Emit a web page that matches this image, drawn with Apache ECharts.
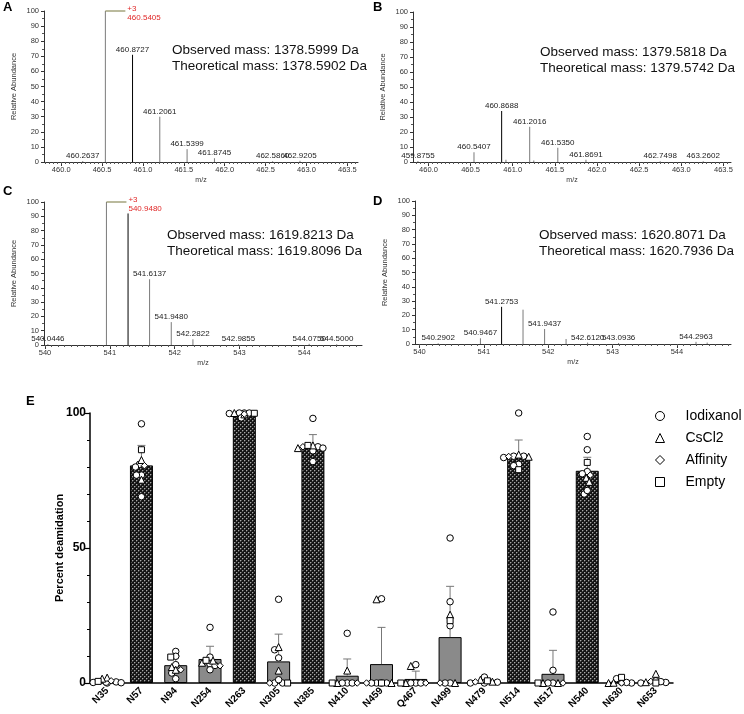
<!DOCTYPE html>
<html>
<head>
<meta charset="utf-8">
<script src="https://cdn.jsdelivr.net/npm/echarts@6/dist/echarts.min.js"></script>
<style>
html,body{margin:0;padding:0;background:#fff;}
#main{width:744px;height:714px;}
</style>
</head>
<body>
<div id="main"></div>
<script>
// ---- spectra A-D : [m/z, relative abundance, tag]  tag 0 = no label, 1 = label, 2 = charge-state base peak
var peaksA = [[460.2637,0.6,1],[460.5405,100,2],[460.8727,71,1],[461.2061,30,1],[461.5399,8.5,1],[461.8745,2.5,1],[462.5860,0.5,1],[462.9205,0.8,1]];
var peaksB = [[459.8755,0.6,1],[460.5407,6.5,1],[460.8688,34,1],[460.9200,1.5,0],[461.2016,23.5,1],[461.2500,1,0],[461.5350,9.5,1],[461.8691,1.5,1],[462.7498,0.5,1],[463.2602,0.5,1]];
var peaksC = [[540.0446,0.6,1],[540.9480,100,2],[541.2814,92,0],[541.6137,46,1],[541.9480,16,1],[542.2822,4,1],[542.9855,0.5,1],[544.0750,0.8,1],[544.5000,0.5,1]];
var peaksD = [[540.2902,0.5,1],[540.9467,4,1],[541.2753,26,1],[541.6085,24,0],[541.9437,10.5,1],[542.2774,3.5,0],[542.6120,1,1],[543.0936,0.7,1],[544.2963,1.5,1],[544.4700,1,0]];

var ticksAB = [460.0,460.5,461.0,461.5,462.0,462.5,463.0,463.5];
var ticksCD = [540,541,542,543,544];

var massText = {
  A: ['Observed mass: 1378.5999 Da','Theoretical mass: 1378.5902 Da'],
  B: ['Observed mass: 1379.5818 Da','Theoretical mass: 1379.5742 Da'],
  C: ['Observed mass: 1619.8213 Da','Theoretical mass: 1619.8096 Da'],
  D: ['Observed mass: 1620.8071 Da','Theoretical mass: 1620.7936 Da']
};

// ---- panel E : percent deamidation per site
var sites = ['N35','N57','N94','N254','N263','N305','N385','N410','N459','Q467','N499','N479','N514','N517','N540','N630','N653'];
var meanPct = [0.6,80.6,6.6,8.9,99.7,8.0,87.9,2.7,7.0,1.5,17.0,0.5,83.9,3.4,78.6,0.5,0.7];
var sdPct   = [0.6,7.4,3.4,4.7,0.5,10.1,4.1,6.2,13.6,2.9,18.8,0.5,6.1,8.7,5.0,0.5,0.8];

var iodixanol = [[0.2,0,0.4,0.1,0.3],[96,81,77,77,69,80],[11.7,9.9,6.8,3.7,1.6],[20.6,9.6,7.0,6.5,4.9],[100,100,99.8,98.2,100],
  [31,12.3,9.3,0,0,1.2],[98,87.5,86,82,87],[18.4,0,0,0],[31.2,0,0,0,0],[6.8,0,0,0],[53.7,30.1,21.2,0,0],[2.2,0,0,0.3],
  [100,84,83.5,81,80.5,84],[26.3,4.7,0,0],[91.3,86.4,78.3,77.5,70,71.3],[0.3,0,1.6,0.2],[0.8,0.2,0,0.5]];
var cscl2 = [[2.0,1.6],[82.6,75.3],[5.9,4.9],[8.3,7.5],[100,99.5],[13.3,4.6],[88,87],[4.6,0],[31,0],[6.3,0],[25.3,0],[0.5,1.2],
  [84.6,83.8],[0,0],[76,74.5],[0,0.1],[3.4,0.3]];
var affinity = [[0.8],[80.5],[4.9],[6.4],[99.6],[0],[87.5],[0],[0],[0],[0],[0.4],[83.9],[0],[77],[0],[0.6]];
var empty = [[0.6],[86.4],[9.6],[8.4],[99.9],[0],[88],[0],[0],[0],[23.1],[0.8],[79],[0],[81.7],[2.1],[0]];

var FONT = '"Liberation Sans", Arial, sans-serif';
var chart = echarts.init(document.getElementById('main'));

function range(a, b, step) {
  var out = [];
  for (var v = a; v <= b + 1e-9; v += step) out.push(Math.round(v * 1000) / 1000);
  return out;
}

// panel layouts (px)
var specPanels = [
  {key:'A', peaks:peaksA, grid:{left:44, top:11, width:314, height:151}, min:459.79, max:463.63, ticks:ticksAB, minor:range(459.8,463.6,0.05), dec:1, text:[172,50]},
  {key:'B', peaks:peaksB, grid:{left:413, top:12, width:318, height:150}, min:459.817, max:463.59, ticks:ticksAB, minor:range(459.85,463.55,0.05), dec:1, text:[540,52]},
  {key:'C', peaks:peaksC, grid:{left:44, top:202, width:318, height:143}, min:539.985, max:544.89, ticks:ticksCD, minor:range(540,544.8,0.1), dec:0, text:[167,235]},
  {key:'D', peaks:peaksD, grid:{left:415, top:201, width:316, height:143}, min:539.93, max:544.84, ticks:ticksCD, minor:range(540,544.8,0.1), dec:0, text:[539,235]}
];
var letterPos = {A:[3,1], B:[373,1], C:[3,185], D:[373,195]};

var grids = [], xAxes = [], yAxes = [], series = [], graphics = [];

specPanels.forEach(function (p, i) {
  grids.push(Object.assign({outerBoundsMode:'none', containLabel:false}, p.grid));
  xAxes.push({
    type:'value', gridIndex:i, min:p.min, max:p.max, position:'bottom',
    axisLine:{lineStyle:{color:'#333', width:1}},
    axisTick:{customValues:p.ticks, length:4, lineStyle:{color:'#333'}},
    axisLabel:{customValues:p.ticks, fontSize:7.5, color:'#333', margin:4, fontFamily:FONT,
      formatter:(function (d) { return function (v) { return v.toFixed(d); }; })(p.dec)},
    splitLine:{show:false},
    name:'m/z', nameLocation:'middle', nameGap:15, nameTextStyle:{fontSize:7, color:'#333', fontFamily:FONT}
  });
  // minor ticks
  xAxes.push({
    type:'value', gridIndex:i, min:p.min, max:p.max, position:'bottom',
    axisLine:{show:false}, axisLabel:{show:false}, splitLine:{show:false},
    axisTick:{customValues:p.minor, length:2, lineStyle:{color:'#555'}}
  });
  yAxes.push({
    type:'value', gridIndex:i, min:0, max:100, interval:10,
    axisLine:{show:true, lineStyle:{color:'#333', width:1}},
    axisTick:{show:true, length:3, lineStyle:{color:'#333'}},
    minorTick:{show:true, splitNumber:2, length:2, lineStyle:{color:'#555'}},
    axisLabel:{fontSize:7.5, color:'#333', margin:5, fontFamily:FONT},
    splitLine:{show:false},
    name:'Relative Abundance', nameLocation:'middle', nameGap:26,
    nameTextStyle:{fontSize:7.5, color:'#333', fontFamily:FONT}
  });

  var tallest = 0;
  p.peaks.forEach(function (pk) { if (pk[2] !== 2 && pk[1] > tallest) tallest = pk[1]; });

  series.push({
    type:'custom', xAxisIndex:2 * i, yAxisIndex:i, silent:true, clip:false,
    data:p.peaks,
    renderItem:function (params, api) {
      var mz = api.value(0), ab = api.value(1), tag = api.value(2);
      var b = api.coord([mz, 0]), t = api.coord([mz, ab]);
      var dark = tag !== 2 && ab === tallest;
      var kids = [{type:'line', shape:{x1:b[0], y1:b[1], x2:t[0], y2:t[1]},
        style:{stroke:dark ? '#000' : '#7a7a7a', lineWidth:1}}];
      if (tag === 1) {
        kids.push({type:'text', x:t[0], y:t[1] - 1,
          style:{text:mz.toFixed(4), font:'8px ' + FONT, fill:'#222', align:'center', verticalAlign:'bottom'}});
      } else if (tag === 2) {
        kids.push({type:'line', shape:{x1:t[0], y1:t[1], x2:t[0] + 20, y2:t[1]}, style:{stroke:'#8c8c5c', lineWidth:1.2}});
        kids.push({type:'text', x:t[0] + 22, y:t[1] - 7,
          style:{text:'+3\n' + mz.toFixed(4), font:'8px ' + FONT, fill:'#e02828', align:'left', verticalAlign:'top', lineHeight:9}});
      }
      return {type:'group', children:kids};
    }
  });

  graphics.push({type:'text', left:letterPos[p.key][0], top:letterPos[p.key][1],
    style:{text:p.key, font:'bold 13px ' + FONT, fill:'#000'}});
  graphics.push({type:'text', left:p.text[0], top:p.text[1] - 8,
    style:{text:massText[p.key].join('\n'), font:'13.5px ' + FONT, fill:'#111', lineHeight:16}});
});

// ---- panel E
function hatch() {
  var c = document.createElement('canvas');
  c.width = 4; c.height = 4;
  var g = c.getContext('2d');
  g.fillStyle = '#141414'; g.fillRect(0, 0, 4, 4);
  g.fillStyle = '#a8a8a8'; g.fillRect(0, 0, 1, 1); g.fillRect(2, 2, 1, 1);
  g.fillStyle = '#4a4a4a'; g.fillRect(1, 0, 1, 1); g.fillRect(0, 1, 1, 1); g.fillRect(3, 2, 1, 1); g.fillRect(2, 3, 1, 1);
  return c;
}
var hatchFill = {image:hatch(), repeat:'repeat'};

var gE = {left:90, top:413, width:583, height:270};
var pxPerUnit = gE.height / 100;
grids.push(Object.assign({outerBoundsMode:'none', containLabel:false}, gE));
var eX = xAxes.length, eY = yAxes.length;
xAxes.push({
  type:'category', gridIndex:4, data:sites,
  axisLine:{lineStyle:{color:'#000', width:1.5}},
  axisTick:{alignWithLabel:true, length:4, lineStyle:{color:'#000'}},
  axisLabel:{rotate:45, interval:0, fontSize:10, fontWeight:'bold', color:'#000', margin:6, fontFamily:FONT}
});
yAxes.push({
  type:'value', gridIndex:4, min:0, max:100, interval:50,
  axisLine:{show:true, lineStyle:{color:'#000', width:1.5}},
  axisTick:{show:true, length:5, lineStyle:{color:'#000', width:1.2}},
  minorTick:{show:true, splitNumber:5, length:3, lineStyle:{color:'#000'}},
  axisLabel:{fontSize:12, fontWeight:'bold', color:'#000', margin:4, fontFamily:FONT},
  splitLine:{show:false},
  name:'Percent deamidation', nameLocation:'middle', nameGap:25, nameMoveOverlap:false,
  nameTextStyle:{fontSize:11, fontWeight:'bold', color:'#000', fontFamily:FONT}
});

series.push({
  type:'bar', xAxisIndex:eX, yAxisIndex:eY, barWidth:23, silent:true,
  data:meanPct.map(function (m) {
    return {value:m, itemStyle:{color:m >= 50 ? hatchFill : '#8a8a8a', borderColor:'#000', borderWidth:1}};
  })
});

series.push({
  type:'custom', xAxisIndex:eX, yAxisIndex:eY, silent:true, z:3,
  data:sites.map(function (s, i) { return [i, meanPct[i], sdPct[i]]; }),
  renderItem:function (params, api) {
    var a = api.coord([api.value(0), api.value(1)]);
    var b = api.coord([api.value(0), api.value(1) + api.value(2)]);
    var st = {stroke:'#777', lineWidth:1};
    return {type:'group', children:[
      {type:'line', shape:{x1:a[0], y1:a[1], x2:b[0], y2:b[1]}, style:st},
      {type:'line', shape:{x1:b[0] - 4, y1:b[1], x2:b[0] + 4, y2:b[1]}, style:st}
    ]};
  }
});

// horizontal spread of points so they do not sit exactly on top of each other
var groups = [iodixanol, cscl2, affinity, empty];
var offsets = groups.map(function (g) { return g.map(function (arr) { return arr.map(function () { return 0; }); }); });
sites.forEach(function (s, i) {
  var pts = [];
  groups.forEach(function (g, gi) { g[i].forEach(function (v, k) { pts.push({gi:gi, k:k, v:v}); }); });
  pts.sort(function (a, b) { return b.v - a.v; });
  var placed = [];
  pts.forEach(function (p) {
    var py = p.v * pxPerUnit, dx = 0;
    for (var step = 0; step < 30; step++) {
      var cand = (step % 2 ? -1 : 1) * Math.ceil(step / 2);
      var ok = placed.every(function (q) {
        var ddx = q.x - cand, ddy = q.y - py;
        return ddx * ddx + ddy * ddy >= 21;
      });
      if (ok) { dx = cand; break; }
    }
    placed.push({x:dx, y:py});
    offsets[p.gi][i][p.k] = dx;
  });
});

var groupNames = ['Iodixanol','CsCl2','Affinity','Empty'];
var groupSymbols = ['circle','triangle','diamond','rect'];
var groupSizes = [6.5, 7, 6.5, 6];
groups.forEach(function (g, gi) {
  var data = [];
  g.forEach(function (arr, i) {
    arr.forEach(function (v, k) { data.push({value:[i, v], symbolOffset:[offsets[gi][i][k], 0]}); });
  });
  series.push({
    type:'scatter', name:groupNames[gi], xAxisIndex:eX, yAxisIndex:eY, z:4,
    symbol:groupSymbols[gi], symbolSize:groupSizes[gi],
    itemStyle:{color:'#fff', borderColor:'#000', borderWidth:1, opacity:1},
    data:data
  });
});

graphics.push({type:'text', left:26, top:395, style:{text:'E', font:'bold 13px ' + FONT, fill:'#000'}});

chart.setOption({
  animation:false,
  backgroundColor:'#fff',
  grid:grids,
  xAxis:xAxes,
  yAxis:yAxes,
  legend:{
    data:groupNames, orient:'vertical', left:650, top:404, itemGap:8, itemWidth:9, itemHeight:9,
    selectedMode:false, formatter:'{t|{name}}', itemStyle:{borderWidth:1},
    textStyle:{color:'#000', fontFamily:FONT, rich:{t:{fontSize:14, padding:[0, 0, 0, 16], fontFamily:FONT, color:'#000'}}}
  },
  graphic:graphics,
  series:series
});
</script>
</body>
</html>
